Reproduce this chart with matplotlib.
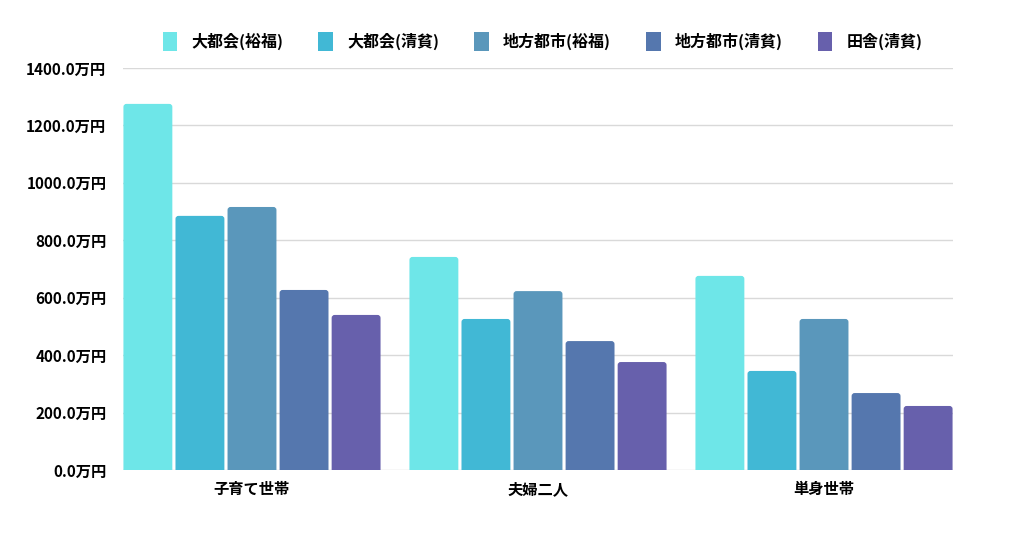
import matplotlib.pyplot as plt
from matplotlib.patches import FancyBboxPatch, Patch
import numpy as np

plt.rcParams['font.family'] = ['Noto Sans CJK JP', 'DejaVu Sans']

categories = ['子育て世帯', '夫婦二人', '単身世帯']
series = ['大都会(裕福)', '大都会(清貧)', '地方都市(裕福)', '地方都市(清貧)', '田舎(清貧)']
values = [
    [1275, 742, 676],
    [885, 526, 345],
    [916, 623, 526],
    [627, 449, 268],
    [540, 376, 223],
]
colors = ['#6ee6e8', '#41b8d5', '#5a97bb', '#5577ae', '#6760ac']
yticks = [0, 200, 400, 600, 800, 1000, 1200, 1400]

fig = plt.figure(figsize=(10.24, 5.38), dpi=100)
ax = fig.add_axes([123/1024, 1-470/538, (953-123)/1024, (470-68)/538])

x = np.arange(len(categories))
step = 0.182
bar_w = 0.171
xlo, xhi = -0.451, 2.451
# data units per pixel, for rounding corners
px_x = (xhi - xlo) / 830
px_y = 1400 / 402
for i, (name, vals) in enumerate(zip(series, values)):
    for xc, v in zip(x + (i - 2) * step, vals):
        rect = FancyBboxPatch((xc - bar_w / 2, -10 * px_y), bar_w, v + 10 * px_y,
                              boxstyle=f'round,pad=0,rounding_size={3 * px_x}',
                              mutation_aspect=px_y / px_x,
                              facecolor=colors[i], edgecolor='none', zorder=3)
        ax.add_patch(rect)

ax.set_xlim(xlo, xhi)
ax.set_ylim(0, 1400)
ax.set_yticks(yticks)
ax.set_yticklabels([f'{v:.1f}万円' for v in yticks], fontweight='bold', fontsize=11)
ax.set_xticks(x)
ax.set_xticklabels(categories, fontweight='bold', fontsize=11)
ax.tick_params(axis='both', length=0, pad=8)
ax.tick_params(axis='y', pad=12)
ax.grid(axis='y', color='#d9d9d9', linewidth=1, zorder=0)
for s in ax.spines.values():
    s.set_visible(False)

handles = [Patch(facecolor=c, edgecolor='none') for c in colors]
fig.legend(handles, series, loc='upper center', bbox_to_anchor=(0.530, 0.968), ncol=5,
           frameon=False, prop={'weight': 'bold', 'size': 11.5},
           handlelength=0.9, handleheight=1.5, columnspacing=2.2, handletextpad=0.9)

fig.savefig('out.png', dpi=100)
